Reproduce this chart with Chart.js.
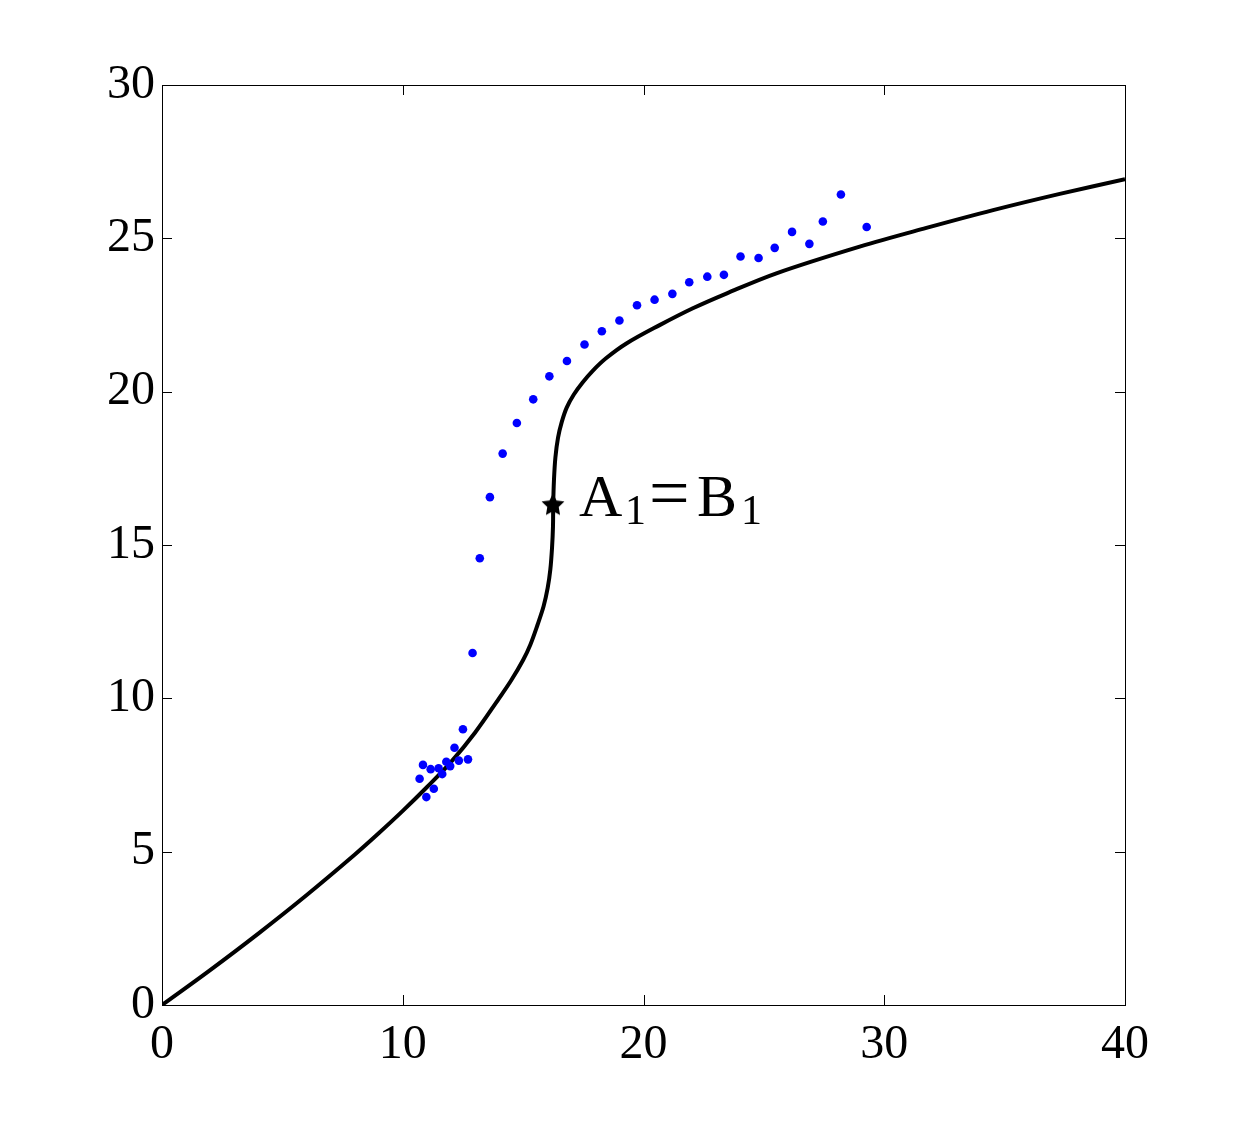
<!DOCTYPE html>
<html>
<head>
<meta charset="utf-8">
<script src="https://cdn.jsdelivr.net/npm/chart.js@4.4.1/dist/chart.umd.min.js"></script>
<style>
  html, body { margin: 0; padding: 0; background: #fff; }
  #wrap { width: 1242px; height: 1132px; }
</style>
</head>
<body>
<div id="wrap"><canvas id="c" width="1242" height="1132"></canvas></div>
<script>
// curva teórica
const curveX = [0, 2, 4, 6, 8, 9, 10, 11, 12, 13, 14, 14.5, 15, 15.3, 15.6, 15.85, 16.02, 16.13, 16.2, 16.24, 16.25, 16.28, 16.34, 16.45, 16.6, 16.81, 17.1, 17.47, 17.89, 18.43, 19.29, 20.67, 22.05, 23.44, 25.52, 28.98, 31.75, 34.52, 37.29, 40];
const curveY = [0, 1.14, 2.33, 3.58, 4.90, 5.60, 6.33, 7.10, 7.92, 8.88, 10.0, 10.58, 11.25, 11.75, 12.4, 13.0, 13.6, 14.2, 14.9, 15.6, 16.33, 17.1, 17.85, 18.5, 19.0, 19.48, 19.9, 20.3, 20.68, 21.08, 21.57, 22.17, 22.72, 23.20, 23.86, 24.73, 25.34, 25.92, 26.45, 26.93];

// puntos medidos (azul)
const dotX = [10.70, 10.84, 10.98, 11.16, 11.29, 11.49, 11.64, 11.81, 11.97, 12.15, 12.33, 12.50, 12.71, 12.90, 13.20, 13.62, 14.15, 14.74, 15.42, 16.09, 16.82, 17.55, 18.27, 19.0, 19.73, 20.46, 21.2, 21.9, 22.65, 23.34, 24.03, 24.78, 25.45, 26.17, 26.89, 27.45, 28.2, 29.27];
const dotY = [7.38, 7.83, 6.78, 7.69, 7.05, 7.72, 7.53, 7.93, 7.79, 8.39, 7.97, 8.99, 8.01, 11.48, 14.57, 16.56, 17.98, 18.98, 19.75, 20.50, 21.0, 21.54, 21.97, 22.32, 22.82, 23.0, 23.19, 23.57, 23.75, 23.81, 24.41, 24.36, 24.69, 25.21, 24.82, 25.55, 26.43, 25.37];

// punto especial A1=B1
const starX = [16.24];
const starY = [16.33];

const xTicks = [0, 10, 20, 30, 40];
const yTicks = [0, 5, 10, 15, 20, 25, 30];

const FONT = '"Liberation Serif", "Times New Roman", serif';

// pentagrama relleno como estilo de punto
function pentagrama(r) {
    const cv = document.createElement('canvas');
    const s = Math.ceil(r * 2 + 4);
    cv.width = s; cv.height = s;
    const g = cv.getContext('2d');
    g.translate(s / 2, s / 2 + 1);
    g.beginPath();
    for (let i = 0; i < 10; i++) {
        const rad = i % 2 === 0 ? r : r * 0.5;
        const a = -Math.PI / 2 + i * Math.PI / 5;
        const px = rad * Math.cos(a), py = rad * Math.sin(a);
        i === 0 ? g.moveTo(px, py) : g.lineTo(px, py);
    }
    g.closePath();
    g.fillStyle = '#000';
    g.fill();
    return cv;
}

// caja y marcas hacia dentro, como en MATLAB
const cajaPlugin = {
    id: 'caja',
    afterDatasetsDraw(chart) {
        const { ctx, chartArea: a, scales } = chart;
        const len = 10;
        ctx.save();
        ctx.strokeStyle = '#000';
        ctx.lineWidth = 1;
        ctx.strokeRect(a.left + 0.5, a.top + 0.5, a.right - a.left, a.bottom - a.top);
        ctx.beginPath();
        xTicks.forEach(v => {
            const x = Math.round(scales.x.getPixelForValue(v)) + 0.5;
            ctx.moveTo(x, a.bottom); ctx.lineTo(x, a.bottom - len);
            ctx.moveTo(x, a.top); ctx.lineTo(x, a.top + len);
        });
        yTicks.forEach(v => {
            const y = Math.round(scales.y.getPixelForValue(v)) + 0.5;
            ctx.moveTo(a.left, y); ctx.lineTo(a.left + len, y);
            ctx.moveTo(a.right, y); ctx.lineTo(a.right - len, y);
        });
        ctx.stroke();

        // etiqueta A1=B1
        const px = scales.x.getPixelForValue(starX[0]);
        const py = scales.y.getPixelForValue(starY[0]);
        const base = py + 12;
        ctx.fillStyle = '#000';
        ctx.textBaseline = 'alphabetic';
        ctx.textAlign = 'left';
        ctx.font = '60px ' + FONT;
        ctx.fillText('A', px + 26, base);
        ctx.fillText('B', px + 144, base);
        ctx.font = '72px ' + FONT;
        ctx.fillText('=', px + 96, base + 1);
        ctx.font = '42px ' + FONT;
        ctx.fillText('1', px + 72, base + 8);
        ctx.fillText('1', px + 188, base + 8);
        ctx.restore();
    }
};

new Chart(document.getElementById('c'), {
    type: 'scatter',
    data: {
        datasets: [
            {
                label: 'puntos',
                data: dotX.map((x, i) => ({ x, y: dotY[i] })),
                backgroundColor: '#0000ff',
                borderWidth: 0,
                pointRadius: 4.3,
                order: 0
            },
            {
                label: 'A1=B1',
                data: starX.map((x, i) => ({ x, y: starY[i] })),
                pointStyle: pentagrama(12),
                order: 0
            },
            {
                label: 'curva',
                data: curveX.map((x, i) => ({ x, y: curveY[i] })),
                showLine: true,
                borderColor: '#000',
                borderWidth: 4,
                pointRadius: 0,
                tension: 0.35,
                order: 1
            }
        ]
    },
    options: {
        responsive: false,
        animation: false,
        devicePixelRatio: 1,
        layout: { padding: { top: 85, right: 117, left: 0, bottom: 0 } },
        plugins: { legend: { display: false }, tooltip: { enabled: false } },
        scales: {
            x: {
                type: 'linear', min: 0, max: 40,
                afterFit(s) { s.height = 127; },
                afterBuildTicks(s) { s.ticks = xTicks.map(v => ({ value: v })); },
                grid: { display: false, drawTicks: false },
                border: { display: false },
                ticks: { color: '#000', padding: 12, font: { family: FONT, size: 48 } }
            },
            y: {
                type: 'linear', min: 0, max: 30,
                afterFit(s) { s.width = 162; },
                afterBuildTicks(s) { s.ticks = yTicks.map(v => ({ value: v })); },
                grid: { display: false, drawTicks: false },
                border: { display: false },
                ticks: { color: '#000', padding: 7, font: { family: FONT, size: 48 } }
            }
        }
    },
    plugins: [cajaPlugin]
});
</script>
</body>
</html>
